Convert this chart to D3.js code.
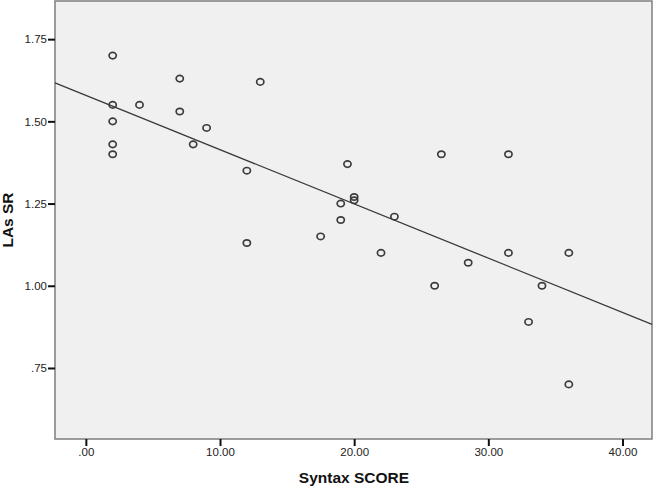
<!DOCTYPE html>
<html>
<head>
<meta charset="utf-8">
<script src="https://cdn.jsdelivr.net/npm/d3@7"></script>
<style>
  body { margin: 0; background: #fff; }
  svg { display: block; }
  .tick text { font-family: "Liberation Sans", Arial, sans-serif; font-size: 11.5px; fill: #222; }
  .axis-title { font-family: "Liberation Sans", Arial, sans-serif; font-size: 15.5px; font-weight: bold; fill: #111; }
</style>
</head>
<body>
<div id="chart"></div>
<script>
// syntax score (x) and LAs SR (y)
const syntaxScore = [2, 2, 2, 2, 2, 4, 7, 7, 8, 9, 12, 12, 13,
  17.5, 19, 19, 19.5, 20, 20, 22, 23, 26, 26.5, 28.5, 31.5, 31.5, 33, 34, 36, 36]
const lasSR = [1.70, 1.55, 1.50, 1.43, 1.40, 1.55, 1.63, 1.53, 1.43, 1.48, 1.35, 1.13, 1.62,
  1.15, 1.25, 1.20, 1.37, 1.27, 1.26, 1.10, 1.21, 1.00, 1.40, 1.07, 1.40, 1.10, 0.89, 1.00, 1.10, 0.70]

// fit line
const fitIntercept = 1.579
const fitSlope = -0.0165

const xTicks = [0, 10, 20, 30, 40]
const xTickLabels = ['.00', '10.00', '20.00', '30.00', '40.00']
const yTicks = [0.75, 1.00, 1.25, 1.50, 1.75]
const yTickLabels = ['.75', '1.00', '1.25', '1.50', '1.75']

function drawChart() {
  let width = 654
  let height = 486
  let left = 55, right = 652, top = 1, bottom = 439

  let svg = d3.select('#chart')
    .append('svg')
    .attr('width', width)
    .attr('height', height)

  let xScale = d3.scaleLinear()
    .domain([-2.3, 42.2])
    .range([left, right])

  let yScale = d3.scaleLinear()
    .domain([0.534, 1.866])
    .range([bottom, top])

  // plot background
  svg.append('rect')
    .attr('x', left)
    .attr('y', top)
    .attr('width', right - left)
    .attr('height', bottom - top)
    .attr('fill', '#f0f0f0')
    .attr('stroke', '#858585')
    .attr('stroke-width', 1.6)

  let xAxis = d3.axisBottom(xScale)
    .tickValues(xTicks)
    .tickFormat((d, i) => xTickLabels[i])
    .tickSize(7)
    .tickPadding(2)

  let yAxis = d3.axisLeft(yScale)
    .tickValues(yTicks)
    .tickFormat((d, i) => yTickLabels[i])
    .tickSize(7)
    .tickPadding(1)

  let gx = svg.append('g')
    .attr('class', 'x-axis')
    .attr('transform', `translate(0, ${bottom})`)
    .call(xAxis)
  let gy = svg.append('g')
    .attr('class', 'y-axis')
    .attr('transform', `translate(${left}, 0)`)
    .call(yAxis)

  gx.select('.domain').remove()
  gy.select('.domain').remove()
  svg.selectAll('.tick line')
    .attr('stroke', '#111')
    .attr('stroke-width', 2)

  // regression line
  let xDom = xScale.domain()
  svg.append('line')
    .attr('x1', xScale(xDom[0]))
    .attr('y1', yScale(fitIntercept + fitSlope * xDom[0]))
    .attr('x2', xScale(xDom[1]))
    .attr('y2', yScale(fitIntercept + fitSlope * xDom[1]))
    .attr('stroke', '#3a3a3a')
    .attr('stroke-width', 1.3)

  // points
  svg.selectAll('.pt')
    .data(syntaxScore)
    .enter()
    .append('ellipse')
    .attr('class', 'pt')
    .attr('cx', d => xScale(d))
    .attr('cy', (d, i) => yScale(lasSR[i]))
    .attr('rx', 3.6)
    .attr('ry', 3.2)
    .attr('fill', 'none')
    .attr('stroke', '#3c3c3c')
    .attr('stroke-width', 1.7)

  // axis titles
  svg.append('text')
    .attr('class', 'axis-title')
    .attr('x', 354)
    .attr('y', 483)
    .attr('text-anchor', 'middle')
    .text('Syntax SCORE')

  svg.append('text')
    .attr('class', 'axis-title')
    .attr('transform', 'translate(13, 220) rotate(-90)')
    .attr('text-anchor', 'middle')
    .text('LAs SR')
}

drawChart()
</script>
</body>
</html>
